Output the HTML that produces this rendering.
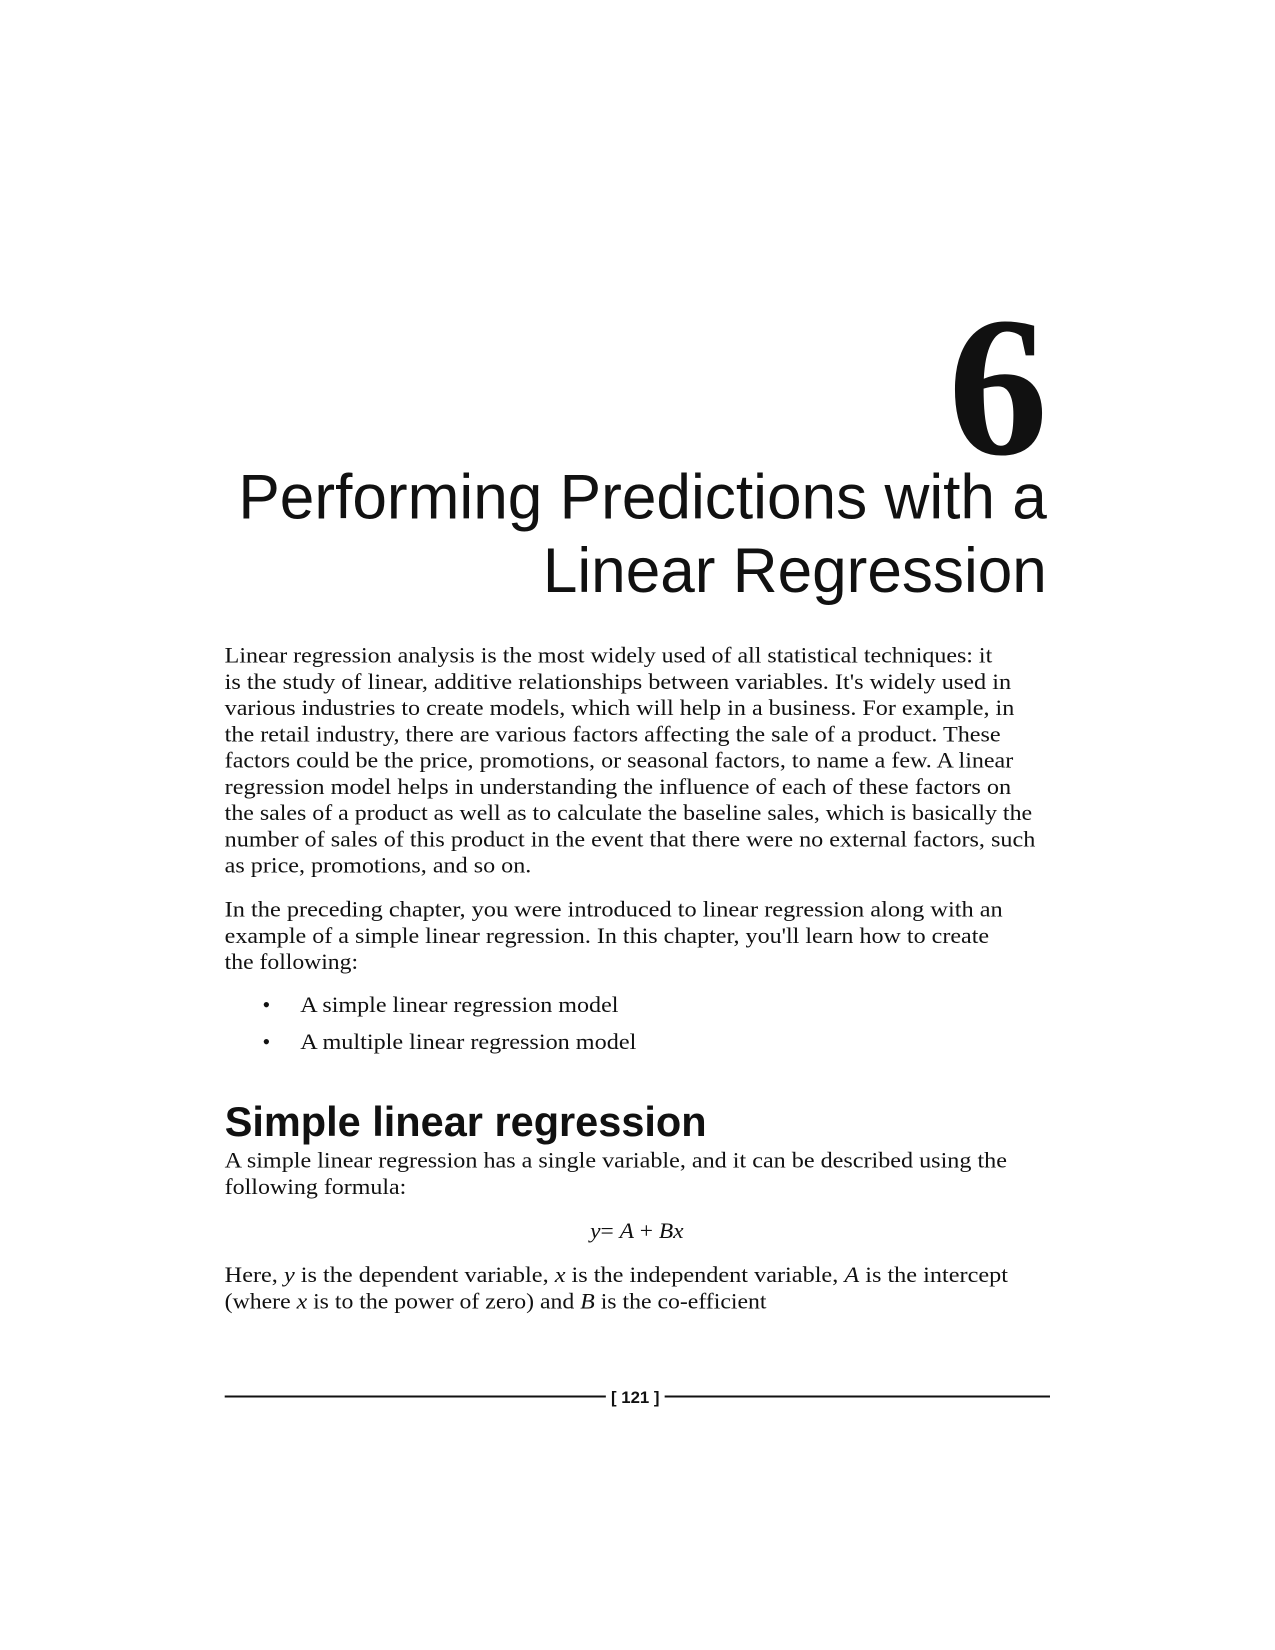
<!DOCTYPE html>
<html><head><meta charset="utf-8">
<style>
html,body{margin:0;padding:0;background:#fff;}
svg{display:block;}
.b{font-family:"Liberation Serif",serif;font-size:21px;fill:#111;}
.s{font-family:"Liberation Sans",sans-serif;fill:#111;}
</style></head>
<body>
<svg width="1275" height="1650" viewBox="0 0 1275 1650">
<g transform="scale(1.05)">
<text x="998" y="432" text-anchor="end" font-family="Liberation Serif,serif" font-weight="bold" font-size="190" fill="#111">6</text>
<g>
<text class="s" x="997" y="494" text-anchor="end" font-size="60" textLength="770" lengthAdjust="spacingAndGlyphs">Performing Predictions with a</text>
<text class="s" x="997" y="564" text-anchor="end" font-size="60" textLength="480" lengthAdjust="spacingAndGlyphs">Linear Regression</text>
</g>
<g class="b">
<text x="214" y="631" textLength="731" lengthAdjust="spacingAndGlyphs">Linear regression analysis is the most widely used of all statistical techniques: it</text>
<text x="214" y="656" textLength="749" lengthAdjust="spacingAndGlyphs">is the study of linear, additive relationships between variables. It's widely used in</text>
<text x="214" y="681" textLength="752" lengthAdjust="spacingAndGlyphs">various industries to create models, which will help in a business. For example, in</text>
<text x="214" y="706" textLength="739" lengthAdjust="spacingAndGlyphs">the retail industry, there are various factors affecting the sale of a product. These</text>
<text x="214" y="731" textLength="751" lengthAdjust="spacingAndGlyphs">factors could be the price, promotions, or seasonal factors, to name a few. A linear</text>
<text x="214" y="756" textLength="749" lengthAdjust="spacingAndGlyphs">regression model helps in understanding the influence of each of these factors on</text>
<text x="214" y="781" textLength="769" lengthAdjust="spacingAndGlyphs">the sales of a product as well as to calculate the baseline sales, which is basically the</text>
<text x="214" y="806" textLength="772" lengthAdjust="spacingAndGlyphs">number of sales of this product in the event that there were no external factors, such</text>
<text x="214" y="831" textLength="292" lengthAdjust="spacingAndGlyphs">as price, promotions, and so on.</text>
</g>
<g class="b">
<text x="214" y="873" textLength="741" lengthAdjust="spacingAndGlyphs">In the preceding chapter, you were introduced to linear regression along with an</text>
<text x="214" y="898" textLength="728" lengthAdjust="spacingAndGlyphs">example of a simple linear regression. In this chapter, you'll learn how to create</text>
<text x="214" y="923" textLength="127" lengthAdjust="spacingAndGlyphs">the following:</text>
</g>
<g class="b">
<text x="250" y="964">•</text>
<text x="286" y="964" textLength="303" lengthAdjust="spacingAndGlyphs">A simple linear regression model</text>
<text x="250" y="999">•</text>
<text x="286" y="999" textLength="320" lengthAdjust="spacingAndGlyphs">A multiple linear regression model</text>
</g>
<text class="s" x="214" y="1082" font-size="40" font-weight="bold" textLength="459" lengthAdjust="spacingAndGlyphs">Simple linear regression</text>
<g class="b">
<text x="214" y="1112" textLength="745" lengthAdjust="spacingAndGlyphs">A simple linear regression has a single variable, and it can be described using the</text>
<text x="214" y="1137" textLength="173" lengthAdjust="spacingAndGlyphs">following formula:</text>
</g>
<text class="b" x="562" y="1179" textLength="89" lengthAdjust="spacingAndGlyphs"><tspan font-style="italic">y</tspan>= <tspan font-style="italic">A</tspan> + <tspan font-style="italic">Bx</tspan></text>
<g class="b">
<text x="214" y="1221" textLength="746" lengthAdjust="spacingAndGlyphs">Here, <tspan font-style="italic">y</tspan> is the dependent variable, <tspan font-style="italic">x</tspan> is the independent variable, <tspan font-style="italic">A</tspan> is the intercept</text>
<text x="214" y="1246" textLength="516" lengthAdjust="spacingAndGlyphs">(where <tspan font-style="italic">x</tspan> is to the power of zero) and <tspan font-style="italic">B</tspan> is the co-efficient</text>
</g>
<g>
<line x1="214" y1="1330" x2="577" y2="1330" stroke="#111" stroke-width="2"/>
<text class="s" x="605" y="1336" text-anchor="middle" font-size="16" font-weight="bold">[ 121 ]</text>
<line x1="633" y1="1330" x2="1000" y2="1330" stroke="#111" stroke-width="2"/>
</g>
</g>
</svg>
</body></html>
